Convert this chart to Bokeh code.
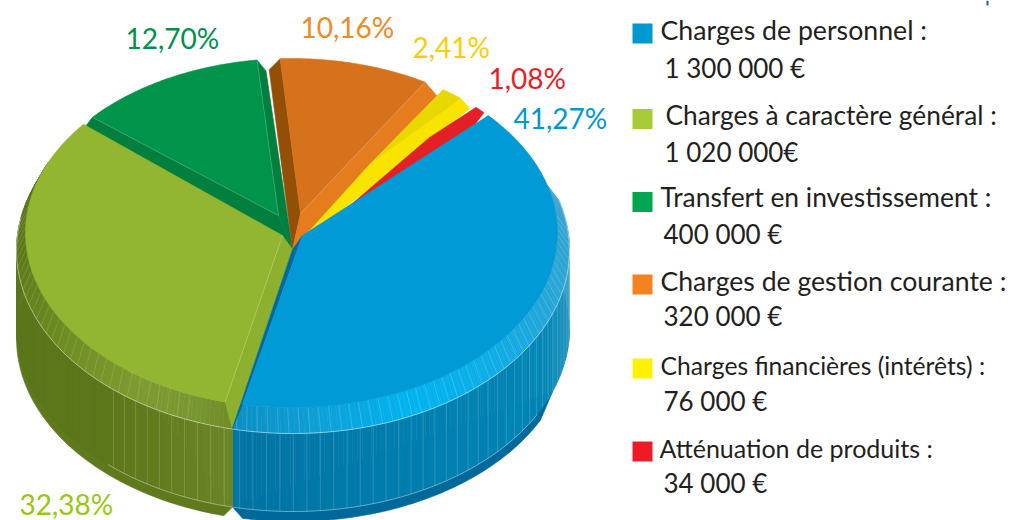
import numpy as np
from bokeh.plotting import figure
from bokeh.models import Range1d, ColumnDataSource
from bokeh.core.properties import value
from bokeh.embed import file_html
from bokeh.resources import INLINE

# ---- data ----
categories = ["Charges de personnel :", "Charges à caractère général :", "Transfert en investissement :",
              "Charges de gestion courante :", "Charges financières (intérêts) :", "Atténuation de produits :"]
amount_labels = ["1 300 000 €", "1 020 000€", "400 000 €", "320 000 €", "76 000 €", "34 000 €"]
percents = [41.27, 32.38, 12.70, 10.16, 2.41, 1.08]
legend_colors = ["#0098d0", "#a6cb36", "#00a651", "#f58220", "#fff200", "#ed1c24"]
label_colors = ["#0098d4", "#97c80f", "#00924a", "#f08a24", "#fccc0a", "#ed1c24"]

# ---- layout of the tilted pie ----
START = 42.3
squeeze = [0.962, 0.979, 0.897, 0.891, 0.553, 0.617]   # perspective foreshortening per slice
gaps = [3.8, 3.0, 5.0, 4.6, 4.4, 0.0]
TOP = (291, 232.5, 266, 174.5)
RIM = (292.5, 250, 276.5, 183)
SIDE = (292.5, 328, 276.5, 183)
SKIRT = (292.5, 338, 276.5, 183)
APEX = (292, 249)
tip_off = [(10, -14), (-10, -14), (-14, -34), (8, -36), (78, -86), (148, -79)]
face_col = ["#009ad6", "#93b632", "#00944a", "#d7721c", "#e8d800", "#e32026"]


def pt(e, a):
    r = np.radians(a)
    return e[0] + e[2] * np.cos(r), e[1] - e[3] * np.sin(r)


def arc(e, a0, a1, n=60):
    ang = np.linspace(a0, a1, n)
    x, y = pt(e, ang)
    return list(x), list(y)


def hexlerp(stops, a):
    xs = [s[0] for s in stops]
    rgb = [[int(s[1][i:i + 2], 16) for s in stops] for i in (1, 3, 5)]
    v = [int(np.interp(a, xs, c)) for c in rgb]
    return "#%02x%02x%02x" % tuple(v)


spans = []
cur = START
for pc, sq, g in zip(percents, squeeze, gaps):
    a0 = cur
    a1 = a0 - pc * 3.6 * sq
    spans.append((a0, a1))
    cur = a1 - g

p = figure(width=1011, height=520, output_backend="svg", toolbar_location=None,
           x_range=Range1d(0, 1011), y_range=Range1d(520, 0), min_border=0,
           outline_line_color=None, background_fill_color="white")
p.axis.visible = False
p.grid.visible = False


def poly(xs, ys, color, line=None, lw=0.6):
    p.patch(xs, ys, fill_color=color, line_color=line or color, line_width=lw)


def seam(x, y, alpha=0.45, lw=0.7, color="white"):
    p.line(x, y, line_color=color, line_alpha=alpha, line_width=lw)


blue_end = spans[0][1] - 2.0     # junction of the two rims at the front
j_side = pt(SIDE, blue_end)

# skirt under the side wall
x, y = arc(SKIRT, -100.5, -26.5)
poly([j_side[0]] + x + [pt(SIDE, -20)[0]], [j_side[1]] + y + [pt(SIDE, -20)[1]], "#00699a")
x, y = arc(SKIRT, -104.5, -205)
poly([j_side[0]] + x, [j_side[1]] + y, "#5f7a1c")

# side wall and bevelled rim, in small stripes
blue_side = [(-103, "#0074a4"), (-60, "#0080b0"), (-30, "#0086b6"), (-5, "#1a8fbc"), (15, "#3a9ec6")]
blue_rim = [(-103, "#0a8fc4"), (-85, "#0e9fd6"), (-65, "#00b4ef"), (-45, "#0caee8"), (-25, "#1fa6da"), (15, "#3ea5d0")]
ol_side = [(-204, "#5c771b"), (-135, "#5c771b"), (-120, "#637c1e"), (-103, "#6c8526")]
ol_rim = [(-204, "#5c771b"), (-175, "#5f7a1c"), (-150, "#6c8c22"), (-125, "#7f9c30"), (-110, "#789630"), (-103, "#6f8c28")]

for a_lo, a_hi, cs, cr, side_lo, step, rim_step, rim_alpha in [
        (blue_end, 16, blue_side, blue_rim, blue_end, 2.8, 2.2, 0.28),
        (-190, blue_end, ol_side, ol_rim, -132, 2.9, 2.4, 0.22)]:
    lo = -204 if a_lo == -190 else a_lo
    n = int((a_hi - lo) / 1.0)
    edges = np.linspace(lo, a_hi, n + 1)
    xs, ys, c = [], [], []
    xr, yr, cc = [], [], []
    for a, b in zip(edges[:-1], edges[1:]):
        m = (a + b) / 2
        x0, y0 = arc(RIM, a, b, 3)
        x1, y1 = arc(SIDE, b, a, 3)
        xs.append(x0 + x1)
        ys.append(y0 + y1)
        c.append(hexlerp(cs, m))
        x2, y2 = arc(TOP, b, a, 3)
        xr.append(x0 + x2)
        yr.append(y0 + y2)
        cc.append(hexlerp(cr, m))
    p.patches(xs, ys, fill_color=c, line_color=c, line_width=0.6)
    p.patches(xr, yr, fill_color=cc, line_color=cc, line_width=0.6)
    for a in np.arange(side_lo + 1.5, min(a_hi, 4), step):
        q0, q1 = pt(RIM, a), pt(SIDE, a)
        seam([q0[0], q1[0]], [q0[1], q1[1]], 0.24)
    for a in np.arange(a_lo + 0.8, a_hi - 8, rim_step):
        q0, q1 = pt(RIM, a), pt(TOP, a)
        seam([q0[0], q1[0]], [q0[1], q1[1]], rim_alpha, 0.6)

x, y = arc(RIM, -190, 16, 200)
seam(x, y, 0.6, 0.8)
x, y = arc(SIDE, -132, -28, 200)
seam(x, y, 0.5, 0.8)


def wall(i, a, off, color):
    px, py = pt(TOP, a)
    tx, ty = APEX[0] + tip_off[i][0], APEX[1] + tip_off[i][1]
    poly([px, px + off[0], APEX[0], tx], [py, py + off[1], APEX[1], ty], color)


def face(i, extra=()):
    a0, a1 = spans[i]
    x, y = arc(TOP, a0, a1)
    tx, ty = APEX[0] + tip_off[i][0], APEX[1] + tip_off[i][1]
    ex = [APEX[0] + d[0] for d in extra]
    ey = [APEX[1] + d[1] for d in extra]
    poly([tx] + ex + x, [ty] + ey + y, face_col[i])
    return tx, ty


# green
wall(2, spans[2][0], (-9, 12), "#007f3f")
wall(2, spans[2][1], (9, 11), "#007f3f")
t = face(2)
for a in spans[2]:
    q = pt(TOP, a)
    seam([q[0], t[0]], [q[1], t[1]], 0.25)
# orange
wall(3, spans[3][0], (-11, 11), "#934f05")
wall(3, spans[3][1], (12, 14), "#e57c1e")
t = face(3)
q = pt(TOP, spans[3][1])
seam([q[0], t[0]], [q[1], t[1]], 0.3)
# yellow
wall(4, spans[4][1], (9, 10), "#f9e400")
face(4)
# red
face(5, extra=[(54, -41), (137, -112)])
# olive
wall(1, spans[1][0], (7, 27), "#8eb02f")
t = face(1)
q = pt(TOP, spans[1][0])
seam([q[0], t[0]], [q[1], t[1]], 0.3)
# blue
wall(0, spans[0][1], (-10, 24), "#006a9c")
face(0)

# percentage labels
pct_x = [513, 19, 125, 300, 412, 488]
pct_y = [117, 503, 37, 26, 46, 77]
p.text(pct_x, pct_y, text=[f"{v:.2f}".replace(".", ",") + "%" for v in percents],
       text_color=label_colors, text_font=value("Lato"), text_font_size="28px",
       text_align="left", text_baseline="middle")

# legend
sq_y = [33, 118.5, 201.5, 284, 368, 451]
p.rect([642] * 6, sq_y, width=20, height=20, fill_color=legend_colors, line_color=None)
name_x = [660, 665, 660, 660, 660, 659]
name_y = [29.5, 114.5, 196.5, 280.5, 364.5, 447.5]
name_size = ["26.7px", "26.3px", "26.4px", "26.6px", "24.7px", "25px"]
amt_x = [664, 664, 663, 663, 663, 663]
amt_y = [67, 151, 233, 315, 400, 482]
p.text(x="x", y="y", text="t", text_font_size="s", source=ColumnDataSource(dict(x=name_x, y=name_y, t=categories, s=name_size)),
       text_color="#231f20", text_font=value("Lato"), text_align="left", text_baseline="middle")
p.text(amt_x, amt_y, text=amount_labels, text_color="#231f20", text_font=value("Lato"),
       text_font_size="26px", text_align="left", text_baseline="middle")

# small mark at the top edge
p.quad(left=[986], right=[988], top=[0], bottom=[5], fill_color="#1a5fb4", line_color=None)

open("out.html", "w").write(file_html(p, INLINE))
